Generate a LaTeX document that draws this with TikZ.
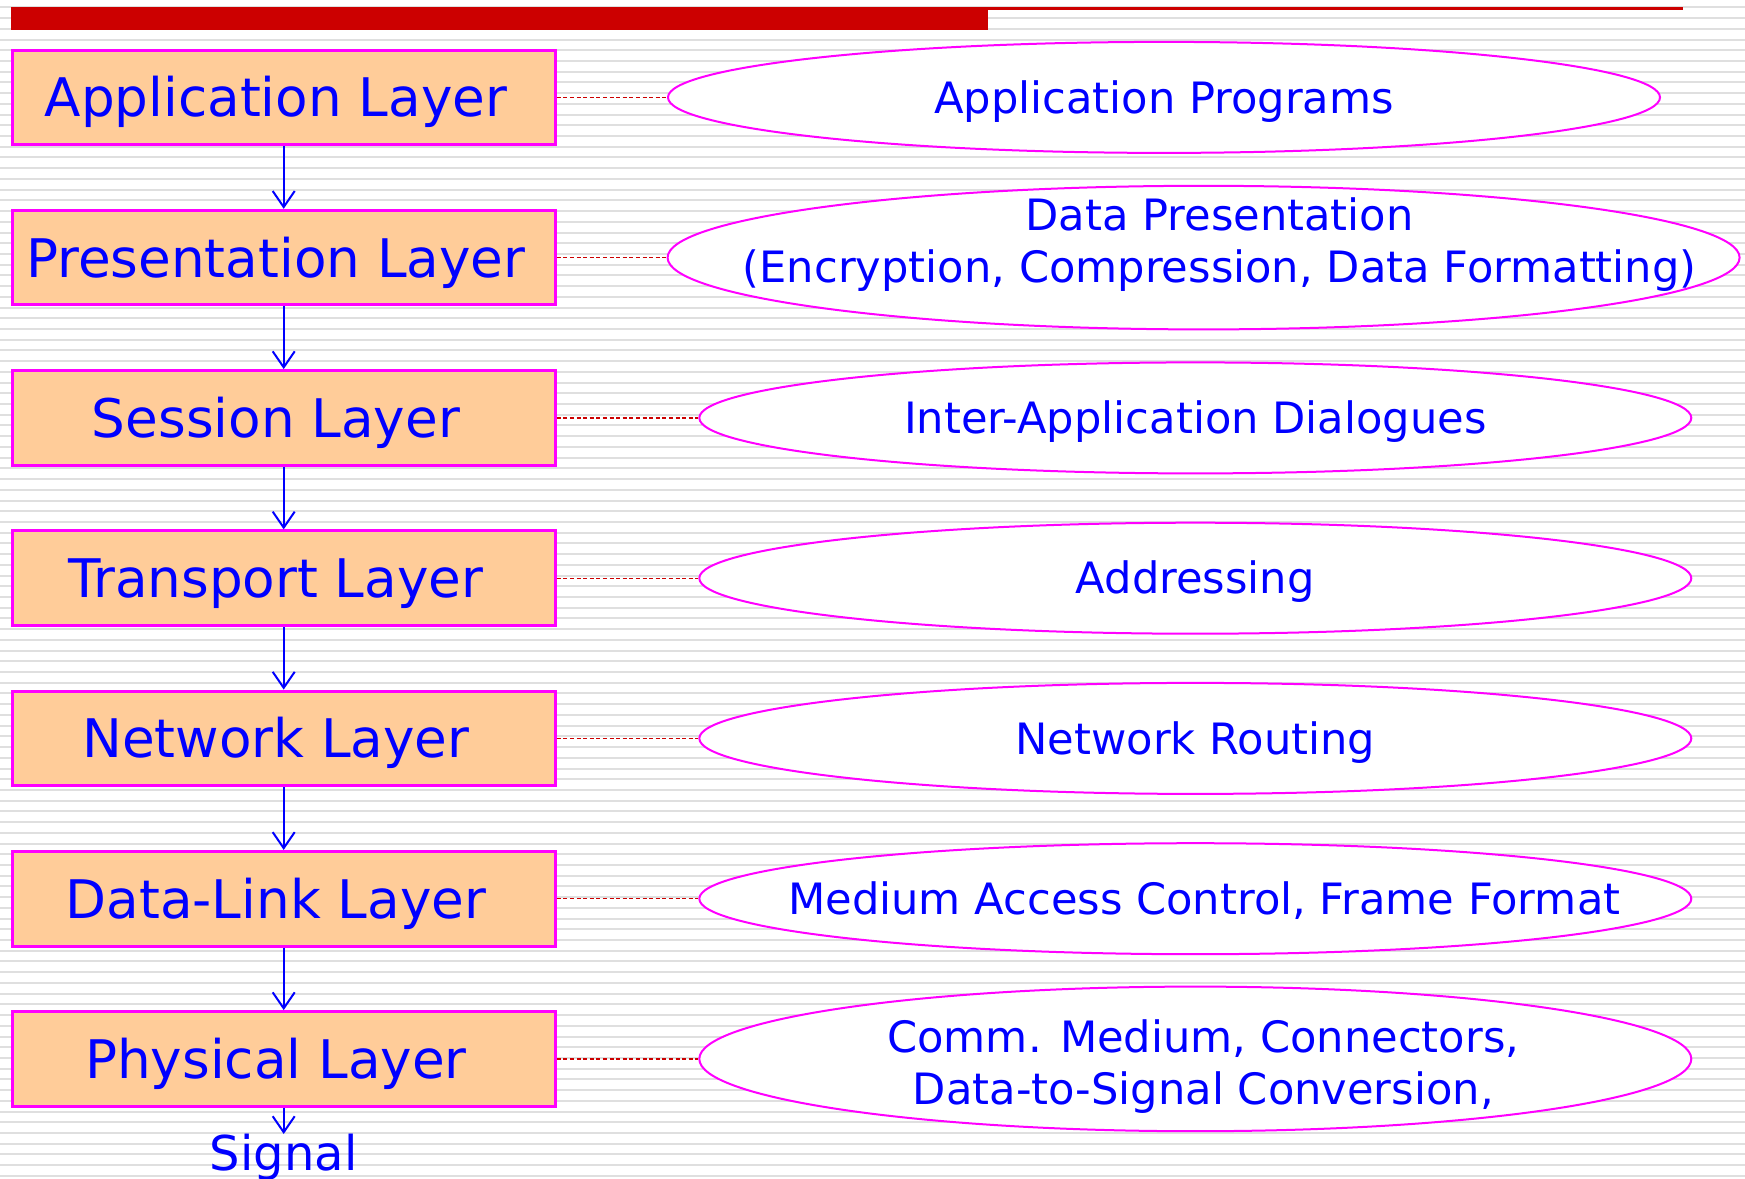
\documentclass[tikz,border=0pt]{standalone}
\usepackage{fontspec}
\setmainfont{DejaVu Sans}
\usetikzlibrary{shapes.geometric,arrows.meta}
\definecolor{barred}{HTML}{CC0000}
\definecolor{boxfill}{HTML}{FFCC99}
\definecolor{edgemag}{RGB}{255,0,255}
\definecolor{textblue}{RGB}{0,0,255}
\begin{document}
\begin{tikzpicture}[x=0.5pt,y=-0.5pt]
        \useasboundingbox (0,0) rectangle (1745,1178);
        \fill[white] (0,0) rectangle (1745,1178);
        \foreach \k in {0,...,109}
            \draw[gray!25,line width=1pt] (0,7.4+10.72*\k) -- (1745,7.4+10.72*\k);
        \fill[barred] (11,7) rectangle (988,30);
        \fill[barred] (988,7) rectangle (1683,9.5);
        \begin{scope}[every node/.style={draw=edgemag,line width=1.5pt,fill=boxfill,text=textblue,minimum width=271.5pt,minimum height=47.3pt,inner sep=0pt,text height=19.4pt,text depth=0pt,execute at begin node={\kern-7.8pt},font=\fontsize{26.6}{30}\selectfont}]
            \node (1) at (283.7,97.4) {Application Layer};
            \node (2) at (283.7,257.6) {Presentation Layer};
            \node (3) at (283.7,417.9) {Session Layer};
            \node (4) at (283.7,578.2) {Transport Layer};
            \node (5) at (283.7,738.4) {Network Layer};
            \node (6) at (283.7,898.7) {Data-Link Layer};
            \node (7) at (283.7,1058.9) {Physical Layer};
        \end{scope}
        \node[text=textblue,inner sep=0pt,anchor=north,font=\fontsize{24}{28}\selectfont] (15) at (283.7,1134) {Signal};
        \begin{scope}[every node/.style={ellipse,draw=edgemag,line width=1pt,fill=white,inner sep=0pt,minimum width=496pt,minimum height=55.5pt}]
            \node (8) at (1164,97.4) {};
            \node[minimum width=536pt,minimum height=71.8pt] (9) at (1203.6,257.6) {};
            \node (10) at (1195.3,417.9) {};
            \node (11) at (1195.3,578.2) {};
            \node (12) at (1195.3,738.4) {};
            \node (13) at (1195.3,898.7) {};
            \node[minimum height=72.3pt] (14) at (1195.3,1058.9) {};
        \end{scope}
        \begin{scope}[every node/.style={text=textblue,align=center,inner sep=0pt,font=\fontsize{21.6}{26}\selectfont}]
            \node[text height=15.75pt,text depth=0pt] (t8) at (8) {Application Programs};
            \node (t9) at ([xshift=8pt,yshift=6.7pt]9) {Data Presentation\\(Encryption, Compression, Data Formatting)};
            \node[text height=15.75pt,text depth=0pt] (t10) at (10) {Inter-Application Dialogues};
            \node[text height=15.75pt,text depth=0pt] (t11) at (11) {Addressing};
            \node[text height=15.75pt,text depth=0pt] (t12) at (12) {Network Routing};
            \node[text height=15.75pt,text depth=0pt] (t13) at ([xshift=4.5pt]13) {Medium Access Control, Frame Format};
            \node (t14) at ([xshift=4pt,yshift=-3.9pt]14) {Comm. Medium, Connectors,\\Data-to-Signal Conversion,};
        \end{scope}
        \begin{scope}[every edge/.style={draw,textblue,line width=1pt,-{Straight Barb[length=8pt,width=11pt]}}]
            \path
                (1) edge (2)
                (2) edge (3)
                (3) edge (4)
                (4) edge (5)
                (5) edge (6)
                (6) edge (7)
                (7) edge (15);
        \end{scope}
        \begin{scope}[every edge/.style={draw=barred,line width=0.7pt,dash pattern=on 2pt off 1.3pt}]
            \path
                (1) edge (8)
                (2) edge (9)
                (3) edge (10)
                (4) edge (11)
                (5) edge (12)
                (6) edge (13)
                (7) edge (14);
        \end{scope}
    \end{tikzpicture}
\end{document}
